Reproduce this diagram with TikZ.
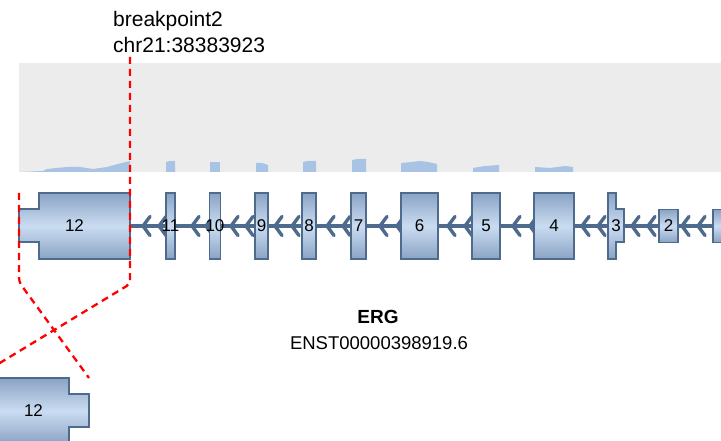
\documentclass[tikz,border=0pt]{standalone}
\usepackage{fontspec}
\setmainfont{Liberation Sans}
\usetikzlibrary{positioning,calc}

\definecolor{exondark}{HTML}{8AA3C4}
\definecolor{exonlight}{HTML}{CADCF1}
\definecolor{exonborder}{HTML}{4E6A8C}
\definecolor{covfill}{HTML}{A8C3E3}
\definecolor{covband}{HTML}{ECECEC}

\begin{document}
\begin{tikzpicture}[x=1pt, y=-1pt,
    exon/.style={draw=exonborder, line width=1.4pt, top color=exondark, bottom color=exondark, middle color=exonlight,
                 inner sep=0pt, minimum height=66pt, font=\fontsize{17}{17}\selectfont},
    utr/.style={exon, minimum height=33pt},
    exonlabel/.style={inner sep=0pt, minimum height=66pt, font=\fontsize{17}{17}\selectfont},
    intron/.style={draw=exonborder, line width=3.5pt},
    chevron/.style={draw=exonborder, line width=3.4pt, line cap=round, line join=round},
    breakline/.style={draw=red, line width=2.3pt, dash pattern=on 7pt off 5pt, rounded corners=4pt}]

    \useasboundingbox (0,0) rectangle (721,441);
    \clip (0,0) rectangle (721,441);

    % coverage track
    \fill[covband] (19,63) rectangle (721,172);
    \fill[covfill] (19,172) -- (43,171) -- (47,169) -- (67,167) -- (80,167) -- (93,169) -- (107,167) -- (118,164) -- (130,161) -- (130,172) -- cycle;
    \fill[covfill] (166,162) -- (170,161) -- (175,161) -- (175,172) -- (166,172) -- cycle;
    \fill[covfill] (210,162) -- (220,162) -- (220,172) -- (210,172) -- cycle;
    \fill[covfill] (256,163) -- (262,163) -- (268,165) -- (268,172) -- (256,172) -- cycle;
    \fill[covfill] (303,162) -- (308,161) -- (316,161) -- (316,172) -- (303,172) -- cycle;
    \fill[covfill] (352,160) -- (358,159) -- (366,159) -- (366,172) -- (352,172) -- cycle;
    \fill[covfill] (401,163) -- (412,162) -- (420,161) -- (428,162) -- (437,164) -- (437,172) -- (401,172) -- cycle;
    \fill[covfill] (473,168) -- (485,166) -- (499,165) -- (499,172) -- (473,172) -- cycle;
    \fill[covfill] (535,167) -- (550,168) -- (565,166) -- (573,167) -- (573,172) -- (535,172) -- cycle;

    % transcript
    \node[utr, minimum width=34pt] (e1) at (730,226) {};
    \node[exonlabel, minimum width=111pt] (e12) at (74.5,226) {};
    \path[intron] (e12.east) -- (e1.west);
    \foreach \t in {143,159,192,206,231,246,275,292,327,343,380,397,448,465,513,530,582,598,632,648,682,698}
        \draw[chevron] (\t+7,216.5) -- (\t,226) -- (\t+7,235.5);

    \draw[exon] (19,209) -- (39,209) -- (39,193) -- (130,193) -- (130,259) -- (39,259) -- (39,242) -- (19,242) -- cycle;
    \node[exonlabel, minimum width=111pt] at (e12) {12};
    \node[exon, minimum width=9pt]  (e11) at (170.5,226) {};
    \node[exon, minimum width=11pt] (e10) at (215,226)   {};
    \node[exon, minimum width=13pt] (e9)  at (261.5,226) {};
    \node[exon, minimum width=14pt] (e8)  at (309,226)   {};
    \node[exon, minimum width=15pt] (e7)  at (358.5,226) {};
    \node[exon, minimum width=37pt] (e6)  at (419.5,226) {6};
    \node[exon, minimum width=28pt] (e5)  at (486,226)   {5};
    \node[exon, minimum width=40pt] (e4)  at (554,226)   {4};
    \draw[exon] (608,193) -- (616,193) -- (616,209) -- (624,209) -- (624,242) -- (616,242) -- (616,259) -- (608,259) -- cycle;
    \node[exonlabel, minimum width=16pt] (e3) at (616,226) {3};
    \node[utr, minimum width=19pt]  (e2)  at (668.5,226) {2};
    \foreach \n in {11,10,9,8,7}
        \node[exonlabel] at (e\n) {\n};

    % fused transcript
    \draw[exon] (-22,378) -- (69,378) -- (69,394) -- (89,394) -- (89,427) -- (69,427) -- (69,444) -- (-22,444) -- cycle;
    \node[exonlabel, minimum width=111pt] (f12) at (33.5,411) {12};

    % breakpoint
    \coordinate (bp2) at (130,57);
    \coordinate (cut) at (19,193);
    \draw[breakline] (bp2) -- (130,284) -- (-20,375);
    \draw[breakline] (cut) -- (19,282) -- (89,378);

    \node[anchor=base west, inner sep=0pt, font=\fontsize{21}{21}\selectfont] (bpname)  at (113,27) {breakpoint2};
    \node[anchor=base west, inner sep=0pt, font=\fontsize{21}{21}\selectfont] (bpcoord) at (113,53) {chr21:38383923};

    \node[anchor=base, inner sep=0pt, font=\bfseries\fontsize{19}{19}\selectfont] (gene) at (378,323) {ERG};
    \node[anchor=base, inner sep=0pt, font=\fontsize{18.5}{18.5}\selectfont] (transcript) at (379,349) {ENST00000398919.6};

\end{tikzpicture}
\end{document}
